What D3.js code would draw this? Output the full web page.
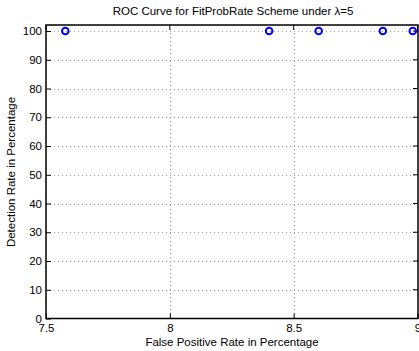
<!DOCTYPE html>
<html><head><meta charset="utf-8">
<script src="https://cdn.jsdelivr.net/npm/d3@7"></script>
<style>body{margin:0;background:#fff}svg{display:block}text{font-family:"Liberation Sans",Arial,sans-serif;fill:#000}</style>
</head><body><svg width="419" height="351"></svg>
<script>
const fpr = [7.578, 8.401, 8.601, 8.860, 8.981];
const detection = [100, 100, 100, 100, 100];
const xTicks = [7.5, 8, 8.5, 9];
const yTicks = [0, 10, 20, 30, 40, 50, 60, 70, 80, 90, 100];
const title = "ROC Curve for FitProbRate Scheme under λ=5";
const xLabel = "False Positive Rate in Percentage";
const yLabel = "Detection Rate in Percentage";

const svg = d3.select("svg");
const L = 46, R = 418, T = 25, B = 318.5;
const FS = 11.5;
const x = d3.scaleLinear().domain([7.5, 9]).range([L, R - 0.5]);
const y = d3.scaleLinear().domain([0, 102.1]).range([B, T]);

// grid
const g = svg.append("g");
g.selectAll(".gx").data(xTicks.slice(1, -1)).enter().append("line")
  .attr("x1", d => Math.round(x(d)) + 0.5).attr("x2", d => Math.round(x(d)) + 0.5)
  .attr("y1", T).attr("y2", B).attr("stroke", "#a0a0a0").attr("stroke-width", 1).attr("stroke-dasharray", "1,3");
g.selectAll(".gy").data(yTicks.slice(1)).enter().append("line")
  .attr("y1", d => Math.round(y(d)) + 0.5).attr("y2", d => Math.round(y(d)) + 0.5)
  .attr("x1", L).attr("x2", R).attr("stroke", "#a0a0a0").attr("stroke-width", 1).attr("stroke-dasharray", "1,3");

// axes via d3
const xAxis = d3.axisBottom(x).tickValues(xTicks).tickFormat(d3.format("")).tickSizeInner(-5).tickSizeOuter(0).tickPadding(7);
const yAxis = d3.axisLeft(y).tickValues(yTicks).tickFormat(d3.format("")).tickSizeInner(-5).tickSizeOuter(0).tickPadding(4);
const gx = svg.append("g").attr("transform", `translate(0,${B})`).call(xAxis);
const gy = svg.append("g").attr("transform", `translate(${L},0)`).call(yAxis);
[gx, gy].forEach(a => {
  a.select(".domain").remove();
  a.selectAll("line").attr("stroke", "#000");
  a.selectAll("text").attr("font-size", FS).attr("font-family", "Liberation Sans, Arial, sans-serif").attr("fill", "#000");
});
gx.selectAll("text").attr("dy", "0.6em");
// top/right ticks
svg.append("g").selectAll("line").data(xTicks).enter().append("line")
  .attr("x1", d => x(d)).attr("x2", d => x(d)).attr("y1", T).attr("y2", T + 5).attr("stroke", "#000");
svg.append("g").selectAll("line").data(yTicks).enter().append("line")
  .attr("y1", d => y(d)).attr("y2", d => y(d)).attr("x1", R).attr("x2", R - 5).attr("stroke", "#000");

// box
svg.append("rect").attr("x", L).attr("y", T).attr("width", R - L).attr("height", B - T)
  .attr("fill", "none").attr("stroke", "#000").attr("stroke-width", 1.5);

// points
svg.append("g").selectAll("circle").data(fpr.map((v, i) => [v, detection[i]])).enter().append("circle")
  .attr("cx", d => x(d[0])).attr("cy", d => y(d[1])).attr("r", 3.3)
  .attr("fill", "none").attr("stroke", "#0000ff").attr("stroke-width", 2);

// labels
svg.append("text").attr("x", 233).attr("y", 15).attr("text-anchor", "middle").attr("font-size", FS).text(title);
svg.append("text").attr("x", 232).attr("y", 346).attr("text-anchor", "middle").attr("font-size", FS).text(xLabel);
svg.append("text").attr("transform", "translate(15,172) rotate(-90)").attr("text-anchor", "middle").attr("font-size", FS).text(yLabel);
</script></body></html>
